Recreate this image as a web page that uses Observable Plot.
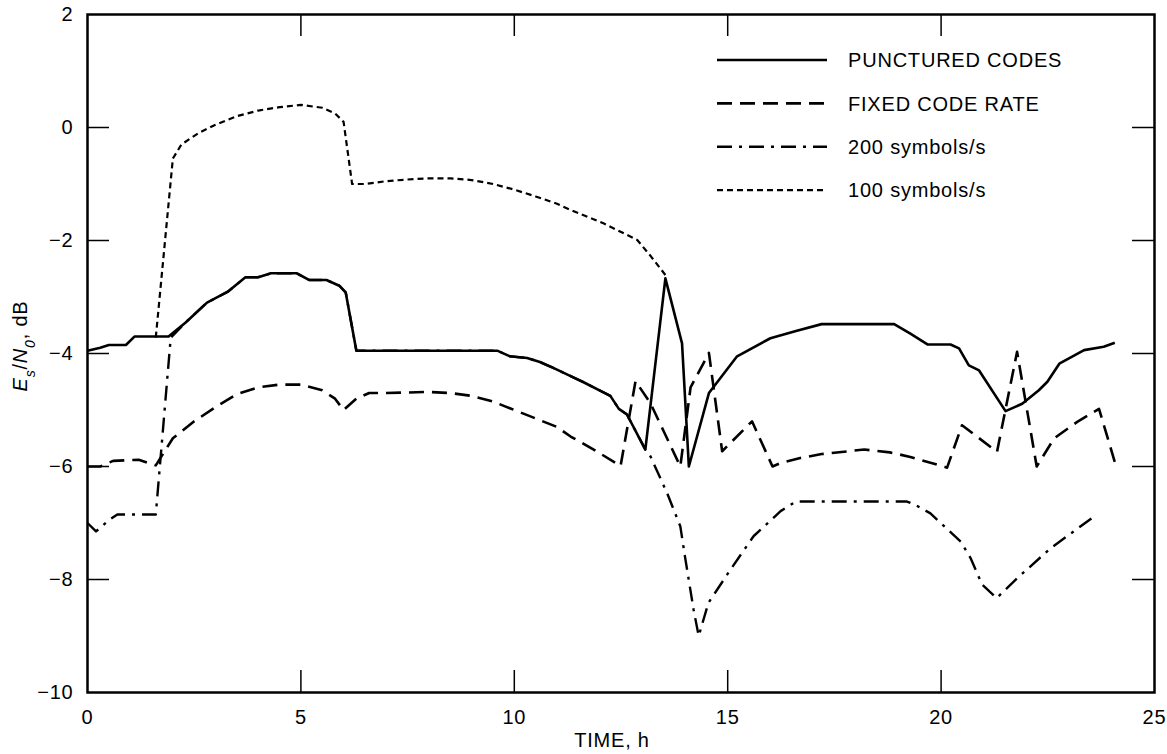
<!DOCTYPE html>
<html><head><meta charset="utf-8">
<script src="https://cdn.jsdelivr.net/npm/d3@7"></script>
<script src="https://cdn.jsdelivr.net/npm/@observablehq/plot@0.6"></script>
<style>
html,body{margin:0;padding:0;background:#fff;}
#chart{position:relative;width:1167px;height:754px;}
#chart svg text{font-family:"Liberation Sans",Arial,Helvetica,sans-serif;letter-spacing:0.8px;}
</style></head><body><div id="chart"></div>
<script>
// ---- data (hours, dB) ----
const puncturedTime  = [0,0.3,0.5,0.9,1.1,1.9,2.3,2.8,3.3,3.7,4.0,4.3,4.9,5.2,5.6,5.9,6.05,6.3,9.6,9.9,10.3,10.6,10.9,11.32,11.6,12.25,12.45,12.64,13.07,13.54,13.93,14.09,14.56,15.22,16.0,16.6,17.2,18.9,19.28,19.68,20.22,20.42,20.65,20.89,21.51,21.9,22.29,22.49,22.77,23.35,23.81,24.07];
const puncturedValue = [-3.95,-3.9,-3.85,-3.85,-3.7,-3.7,-3.45,-3.1,-2.9,-2.65,-2.65,-2.58,-2.58,-2.7,-2.7,-2.8,-2.92,-3.95,-3.95,-4.05,-4.08,-4.15,-4.25,-4.4,-4.5,-4.75,-4.98,-5.08,-5.7,-2.67,-3.82,-6.0,-4.7,-4.05,-3.73,-3.6,-3.48,-3.48,-3.65,-3.84,-3.84,-3.91,-4.21,-4.3,-5.02,-4.89,-4.65,-4.5,-4.18,-3.94,-3.88,-3.81];

const fixedTime  = [0,0.3,0.6,1.2,1.6,2.0,2.5,3.0,3.5,4.0,4.5,5.0,5.5,5.8,6.0,6.3,6.6,7.0,8.0,8.5,9.0,9.5,10.0,10.5,11.0,11.32,11.86,12.49,12.84,13.19,13.89,14.13,14.56,14.87,15.57,16.05,16.24,16.7,17.2,18.2,18.8,19.28,20.14,20.49,21.31,21.78,22.24,22.65,23.19,23.7,24.07];
const fixedValue = [-6.0,-6.0,-5.9,-5.88,-5.98,-5.5,-5.2,-4.95,-4.72,-4.6,-4.55,-4.55,-4.65,-4.8,-5.0,-4.8,-4.7,-4.7,-4.68,-4.7,-4.75,-4.85,-5.0,-5.15,-5.3,-5.47,-5.7,-5.99,-4.49,-4.88,-6.0,-4.6,-3.99,-5.73,-5.2,-6.0,-5.94,-5.85,-5.78,-5.7,-5.75,-5.83,-6.02,-5.27,-5.74,-3.97,-6.0,-5.5,-5.21,-4.98,-5.92];

const sym200Time  = [0,0.2,0.5,0.7,1.6,1.95,2.3,2.8,3.3,3.7,4.0,4.3,4.9,5.2,5.6,5.9,6.05,6.3,9.6,9.9,10.3,10.6,10.9,11.32,11.6,12.25,12.45,12.64,13.07,13.19,13.58,13.89,14.0,14.2,14.32,14.55,15.07,15.61,16.24,16.6,19.2,19.4,19.75,20.46,20.69,20.96,21.3,21.78,22.56,23.63];
const sym200Value = [-7.0,-7.15,-6.95,-6.85,-6.85,-3.72,-3.45,-3.1,-2.9,-2.65,-2.65,-2.58,-2.58,-2.7,-2.7,-2.8,-2.92,-3.95,-3.95,-4.05,-4.08,-4.15,-4.25,-4.4,-4.5,-4.75,-4.98,-5.08,-5.7,-5.82,-6.47,-7.06,-7.6,-8.53,-9.0,-8.41,-7.82,-7.23,-6.79,-6.62,-6.62,-6.68,-6.83,-7.33,-7.62,-8.09,-8.33,-7.98,-7.45,-6.86];

const sym100Time  = [1.6,2.0,2.2,2.6,3.0,3.5,4.0,4.5,5.0,5.5,5.8,6.0,6.2,6.5,7.0,7.5,8.0,8.5,9.0,9.5,10.0,10.5,11.0,11.32,12.1,12.88,13.2,13.54];
const sym100Value = [-3.72,-0.55,-0.3,-0.1,0.05,0.2,0.3,0.36,0.4,0.35,0.25,0.1,-1.0,-1.0,-0.95,-0.92,-0.9,-0.9,-0.93,-1.0,-1.1,-1.22,-1.35,-1.46,-1.7,-1.99,-2.28,-2.61];

const seriesNames = ["PUNCTURED CODES","FIXED CODE RATE","200 symbols/s","100 symbols/s"];
const xTicks = [0,5,10,15,20,25];
const yTicks = [-10,-8,-6,-4,-2,0,2];

// ---- layout ----
const W = 1167, H = 754, mL = 87, mR = 13, mT = 14, mB = 62;
const innerW = W - mL - mR, innerH = H - mT - mB, tickLen = 22;
const styles = [
  {w: 2.6, dash: null},
  {w: 2.6, dash: "15,8"},
  {w: 2.4, dash: "15,7,3,7"},
  {w: 2.2, dash: "6,4"}
];

const toRows = (ts, vs) => ts.map((t, i) => ({t, v: vs[i]}));
const series = [
  toRows(puncturedTime, puncturedValue),
  toRows(fixedTime, fixedValue),
  toRows(sym200Time, sym200Value),
  toRows(sym100Time, sym100Value)
];
const fmt = d => d < 0 ? "\u2212" + Math.abs(d) : String(d);
const inner = xTicks.slice(1, -1);
const innerY = yTicks.slice(1, -1);

const lineMark = i => Plot.line(series[i], {x: "t", y: "v", stroke: "black", strokeWidth: styles[i].w,
  strokeDasharray: styles[i].dash, strokeLinejoin: "round", strokeLinecap: "butt"});

const chart = Plot.plot({
  width: W, height: H, marginLeft: mL, marginRight: mR, marginTop: mT, marginBottom: mB,
  style: {fontSize: "20px", fontFamily: '"Liberation Sans", Arial, sans-serif', background: "white", color: "black"},
  x: {domain: [0, 25], ticks: xTicks, tickSize: 0, tickPadding: 17, label: null},
  y: {domain: [-10, 2], ticks: yTicks, tickSize: 0, tickPadding: 14, tickFormat: fmt, label: null},
  marks: [
    Plot.tickX(inner, {x: d => d, insetTop: innerH - tickLen, strokeWidth: 1.5}),
    Plot.tickX(inner, {x: d => d, insetBottom: innerH - tickLen, strokeWidth: 1.5}),
    Plot.tickY(innerY, {y: d => d, insetRight: innerW - tickLen, strokeWidth: 1.5}),
    Plot.tickY(innerY, {y: d => d, insetLeft: innerW - tickLen, strokeWidth: 1.5}),
    lineMark(3), lineMark(2), lineMark(1), lineMark(0),
    Plot.frame({strokeWidth: 2.5})
  ]
});
document.getElementById("chart").appendChild(chart);

const svg = d3.select(chart);
// axis titles
svg.append("text").attr("x", 612).attr("y", 747).attr("text-anchor", "middle")
  .attr("font-size", 20).text("TIME, h");
const yl = svg.append("text").attr("transform", "translate(27,346) rotate(-90)")
  .attr("text-anchor", "middle").attr("font-size", 20);
yl.append("tspan").attr("font-style", "italic").text("E");
yl.append("tspan").attr("font-style", "italic").attr("baseline-shift", "sub").attr("font-size", 14).text("s");
yl.append("tspan").text("/");
yl.append("tspan").attr("font-style", "italic").text("N");
yl.append("tspan").attr("font-style", "italic").attr("baseline-shift", "sub").attr("font-size", 14).text("0");
yl.append("tspan").text(", dB");

// legend
const lg = svg.append("g").attr("transform", "translate(717,60)");
seriesNames.forEach((name, i) => {
  const g = lg.append("g").attr("transform", `translate(0,${i * 43.4})`);
  g.append("line").attr("x1", 0).attr("x2", 110).attr("y1", 0).attr("y2", 0)
    .attr("stroke", "black").attr("stroke-width", styles[i].w)
    .attr("stroke-dasharray", styles[i].dash);
  g.append("text").attr("x", 131).attr("y", 0).attr("dy", "0.36em").attr("text-anchor", "start")
    .attr("font-size", 20).text(name);
});
</script></body></html>
